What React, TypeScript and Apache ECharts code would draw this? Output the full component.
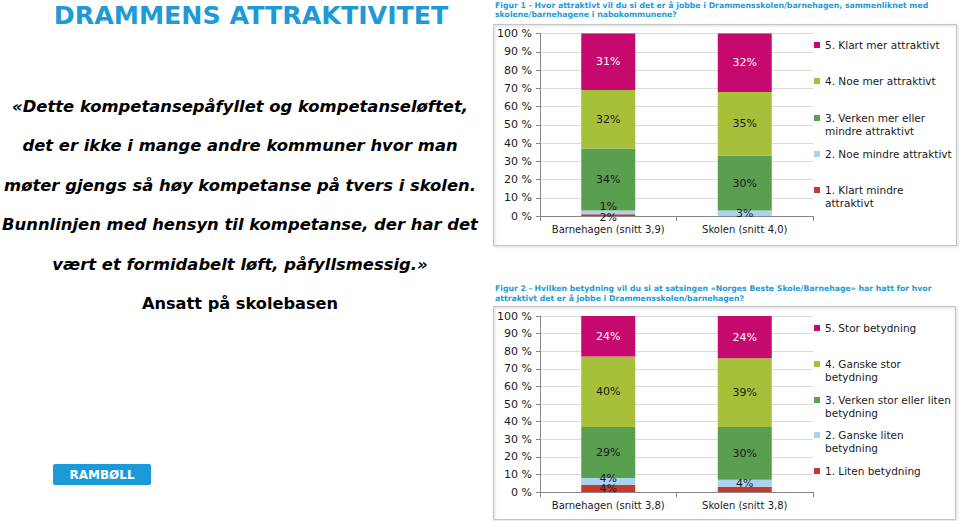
import React, { useEffect, useRef } from 'react';
import * as echarts from 'echarts';

// ---------- DATA ----------
const fig1Categories = ['Barnehagen (snitt 3,9)', 'Skolen (snitt 4,0)'];
const fig2Categories = ['Barnehagen (snitt 3,8)', 'Skolen (snitt 3,8)'];

const fig1Names = [
  '1. Klart mindre attraktivt',
  '2. Noe mindre attraktivt',
  '3. Verken mer eller mindre attraktivt',
  '4. Noe mer attraktivt',
  '5. Klart mer attraktivt',
];
const fig1LegendText = [
  '1. Klart mindre\nattraktivt',
  '2. Noe mindre attraktivt',
  '3. Verken mer eller\nmindre attraktivt',
  '4. Noe mer attraktivt',
  '5. Klart mer attraktivt',
];
const fig1Level1 = [1, 0];
const fig1Level2 = [2, 3];
const fig1Level3 = [34, 30];
const fig1Level4 = [32, 35];
const fig1Level5 = [31, 32];

const fig2Names = [
  '1. Liten betydning',
  '2. Ganske liten betydning',
  '3. Verken stor eller liten betydning',
  '4. Ganske stor betydning',
  '5. Stor betydning',
];
const fig2LegendText = [
  '1. Liten betydning',
  '2. Ganske liten\nbetydning',
  '3. Verken stor eller liten\nbetydning',
  '4. Ganske stor\nbetydning',
  '5. Stor betydning',
];
const fig2Level1 = [4, 3];
const fig2Level2 = [4, 4];
const fig2Level3 = [29, 30];
const fig2Level4 = [40, 39];
const fig2Level5 = [24, 24];

const yTickFormat = '{value} %';

const fig1Caption = [
  'Figur 1 - Hvor attraktivt vil du si det er å jobbe i Drammensskolen/barnehagen, sammenliknet med',
  'skolene/barnehagene i nabokommunene?',
];
const fig2Caption = [
  'Figur 2 - Hvilken betydning vil du si at satsingen «Norges Beste Skole/Barnehage» har hatt for hvor',
  'attraktivt det er å jobbe i Drammensskolen/barnehagen?',
];
const titleText = 'DRAMMENS ATTRAKTIVITET';
const quoteLines = [
  '«Dette kompetansepåfyllet og kompetanseløftet,',
  'det er ikke i mange andre kommuner hvor man',
  'møter gjengs så høy kompetanse på tvers i skolen.',
  'Bunnlinjen med hensyn til kompetanse, der har det',
  'vært et formidabelt løft, påfyllsmessig.»',
];
const sourceText = 'Ansatt på skolebasen';
const logoText = 'RAMBØLL';

// ---------- STYLE / LAYOUT ----------
const FONT = '"DejaVu Sans", Verdana, sans-serif';
const BLUE = '#1e9ad6';
const colors = ['#c9392b', '#a9d4ef', '#5a9f50', '#a6c03a', '#c5096f'];
const labelColors = ['#1a1a1a', '#1a1a1a', '#1a1a1a', '#1a1a1a', '#ffffff'];
const fig1LegendY = [190, 154, 118, 81, 45];
const fig2LegendY = [471, 435, 400, 364, 328];
const quoteY = [106, 145.5, 185, 224.5, 264];

// label tweaks for small segments: [seriesIndex-categoryIndex]
const fig1LabelTweaks: any = { '0-0': { offset: [0, -9] }, '0-1': { show: false }, '1-0': { offset: [0, 5] } };
const fig2LabelTweaks: any = { '0-0': { offset: [0, 0] }, '0-1': { show: false }, '1-0': { offset: [0, -3] } };

function buildSeries(levels: number[][], names: string[], stack: string, axisIndex: number, tweaks: any) {
  return levels.map((vals, si) => ({
    type: 'bar',
    name: names[si],
    stack,
    xAxisIndex: axisIndex,
    yAxisIndex: axisIndex,
    barWidth: 54,
    itemStyle: { color: colors[si] },
    label: {
      show: true,
      position: 'inside',
      formatter: '{c}%',
      fontSize: 11,
      fontFamily: FONT,
      color: labelColors[si],
    },
    data: vals.map((v, ci) => {
      const t = tweaks[`${si}-${ci}`];
      return t ? { value: v, label: t } : v;
    }),
  }));
}

function buildLegends(names: string[], texts: string[], ys: number[]) {
  return names.map((n, i) => {
    const twoLine = texts[i].indexOf('\n') >= 0;
    // a leading blank line keeps the marker level with the first text line
    const shown = twoLine ? ' \n' + texts[i] : texts[i];
    return {
      data: [n],
      orient: 'vertical',
      left: 814,
      top: twoLine ? ys[i] - 19.5 : ys[i] - 6.5,
      padding: 0,
      itemWidth: 6,
      itemHeight: 6,
      icon: 'rect',
      selectedMode: false,
      formatter: () => shown,
      textStyle: {
        fontSize: 10.5,
        lineHeight: 13,
        color: '#1a1a1a',
        fontFamily: FONT,
      },
    };
  });
}

function yAxis(gridIndex: number) {
  return {
    type: 'value',
    gridIndex,
    min: 0,
    max: 100,
    interval: 10,
    axisLine: { show: true, lineStyle: { color: '#868686' } },
    axisTick: { show: true, length: 4, lineStyle: { color: '#868686' } },
    axisLabel: { formatter: yTickFormat, fontSize: 11, color: '#1a1a1a', fontFamily: FONT, margin: 8 },
    splitLine: { lineStyle: { color: '#d9d9d9' } },
  };
}

function xAxis(gridIndex: number, data: string[]) {
  return {
    type: 'category',
    gridIndex,
    data,
    axisLine: { show: true, lineStyle: { color: '#868686' } },
    axisTick: { show: true, length: 5, lineStyle: { color: '#868686' } },
    axisLabel: { interval: 0, fontSize: 10, color: '#1a1a1a', fontFamily: FONT, margin: 8 },
  };
}

function txt(text: string, x: number, y: number, font: string, fill: string, align = 'left') {
  return {
    type: 'text',
    x,
    y,
    silent: true,
    style: { text, x: 0, y: 0, font, fill, align, textAlign: align, verticalAlign: 'middle', textVerticalAlign: 'middle' },
  };
}

export default function App() {
  const ref = useRef<HTMLDivElement>(null);
  useEffect(() => {
    if (!ref.current) return;
    const chart = echarts.init(ref.current, undefined, { renderer: 'svg' });
    const boxStyle = { fill: 'rgba(0,0,0,0)', stroke: '#c4c4c4', lineWidth: 1, shadowBlur: 2, shadowColor: 'rgba(0,0,0,0.25)', shadowOffsetX: 1, shadowOffsetY: 1 };
    const graphics: any[] = [
      { type: 'rect', shape: { x: 493.5, y: 24.5, width: 463, height: 221 }, style: boxStyle, silent: true, z: -10 },
      { type: 'rect', shape: { x: 493.5, y: 306.5, width: 462, height: 213 }, style: boxStyle, silent: true, z: -10 },
      txt(titleText, 251, 15, `bold 25.3px ${FONT}`, BLUE, 'center'),
      ...quoteLines.map((l, i) => txt(l, 240, quoteY[i], `italic bold 16.4px ${FONT}`, '#000000', 'center')),
      txt(sourceText, 240, 303, `bold 16.2px ${FONT}`, '#000000', 'center'),
      ...fig1Caption.map((l, i) => txt(l, 495, 5 + i * 9.5, `bold 7.75px ${FONT}`, BLUE, 'left')),
      ...fig2Caption.map((l, i) => txt(l, 495, 288 + i * 10, `bold 7.75px ${FONT}`, BLUE, 'left')),
      { type: 'rect', shape: { x: 53, y: 464, width: 98, height: 21, r: 2 }, style: { fill: '#1a9ad9' }, silent: true },
      txt(logoText, 102, 474.5, `bold 12px ${FONT}`, '#ffffff', 'center'),
    ];

    const option: any = {
      animation: false,
      backgroundColor: '#ffffff',
      grid: [
        { left: 540, right: 147, top: 33.5, bottom: 305 },
        { left: 540, right: 147, top: 316, bottom: 29 },
      ],
      xAxis: [xAxis(0, fig1Categories), xAxis(1, fig2Categories)],
      yAxis: [yAxis(0), yAxis(1)],
      legend: [
        ...buildLegends(fig1Names, fig1LegendText, fig1LegendY),
        ...buildLegends(fig2Names, fig2LegendText, fig2LegendY),
      ],
      series: [
        ...buildSeries([fig1Level1, fig1Level2, fig1Level3, fig1Level4, fig1Level5], fig1Names, 'f1', 0, fig1LabelTweaks),
        ...buildSeries([fig2Level1, fig2Level2, fig2Level3, fig2Level4, fig2Level5], fig2Names, 'f2', 1, fig2LabelTweaks),
      ],
      graphic: graphics,
    };
    chart.setOption(option);
    return () => chart.dispose();
  }, []);
  return <div ref={ref} style={{ position: 'fixed', left: 0, top: 0, width: 960, height: 521 }} />;
}
